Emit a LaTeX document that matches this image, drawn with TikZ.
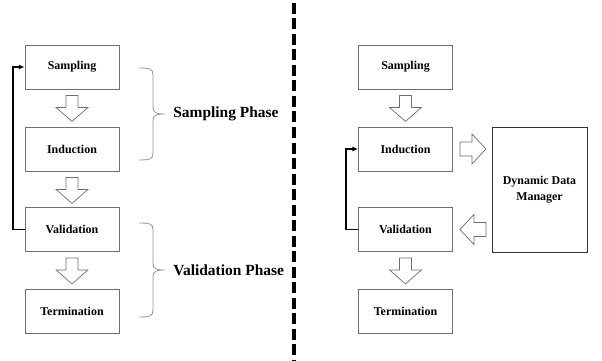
\documentclass[tikz,border=0pt]{standalone}
\usepackage{fontspec}
\setmainfont{Liberation Serif}
\usepackage{tikz}
\usetikzlibrary{arrows.meta,calc}
\definecolor{boxgray}{RGB}{110,110,110}
\definecolor{bracegray}{RGB}{150,150,150}
\newcommand{\fatdown}[1]{\draw[fatarrow] ($(#1.south)+(-6,6)$) -- ++(0,12) -- ++(-10,0) -- ++(16,14) -- ++(16,-14) -- ++(-10,0) -- ++(0,-12) -- cycle;}
\newcommand{\fatright}[1]{\draw[fatarrow] ($(#1.east)+(7,-7)$) -- ++(12,0) -- ++(0,-8) -- ++(14,15) -- ++(-14,15) -- ++(0,-8) -- ++(-12,0) -- cycle;}
\newcommand{\fatleft}[1]{\draw[fatarrow] ($(#1.east)+(7,0)$) -- ++(14,-15) -- ++(0,8) -- ++(12,0) -- ++(0,14) -- ++(-12,0) -- ++(0,8) -- cycle;}
% curly brace from top #1 to bottom #2, label node #3 with text #4
\newcommand{\phasebrace}[4]{%
  \pgfmathsetmacro{\bmid}{(#1+#2)/2}
  \draw[bracegray,line width=0.6pt] (139,#1) .. controls (150,#1) and (153,#1+1) .. (153,#1+7) -- (153,\bmid-7)
    .. controls (153,\bmid-1) and (156,\bmid) .. (165,\bmid) .. controls (156,\bmid) and (153,\bmid+1) .. (153,\bmid+7)
    -- (153,#2-7) .. controls (153,#2-1) and (150,#2) .. (139,#2);
  \node[phaselabel] (#3) at (173,\bmid) {#4};}

\begin{document}
\begin{tikzpicture}[x=0.025cm,y=-0.025cm,line join=miter,
  box/.style={draw=boxgray,line width=0.6pt,minimum width=2.35cm,minimum height=1.1cm,inner sep=0pt,font=\fontsize{8.5}{10}\selectfont\bfseries},
  fatarrow/.style={draw=boxgray,line width=0.5pt,fill=white},
  loopline/.style={line width=1.4pt,-{Latex[length=4pt,width=3.6pt]}},
  phaselabel/.style={anchor=west,inner sep=0pt,font=\fontsize{11}{13}\selectfont\bfseries}]
\useasboundingbox (0,0) rectangle (602,360);
% left column
\node[box] (s1) at (72,67) {Sampling};
\node[box] (i1) at (72,149) {Induction};
\node[box] (v1) at (72,229.5) {Validation};
\node[box] (t1) at (72,311) {Termination};
\fatdown{s1}
\fatdown{i1}
\fatdown{v1}
\draw[loopline] (v1.west) -- ++(-12,0) |- (s1.west);
\phasebrace{68}{160}{sphase}{Sampling Phase}
\phasebrace{223}{317}{vphase}{Validation Phase}
% divider
\draw[line width=2.8pt,dash pattern=on 11*0.025cm off 4.5*0.025cm] (294,3) -- (294,360);
% right column
\node[box] (s2) at (405.5,67) {Sampling};
\node[box] (i2) at (405.5,149) {Induction};
\node[box] (v2) at (405.5,229.5) {Validation};
\node[box] (t2) at (405.5,311) {Termination};
\node[box,minimum width=2.375cm,minimum height=3.125cm,align=center,draw=black!80] (ddm) at (539.5,189.5) {Dynamic Data\\[1pt]Manager};
\fatdown{s2}
\fatdown{v2}
\fatright{i2}
\fatleft{v2}
\draw[loopline] (v2.west) -- ++(-12,0) |- (i2.west);
\end{tikzpicture}
\end{document}
